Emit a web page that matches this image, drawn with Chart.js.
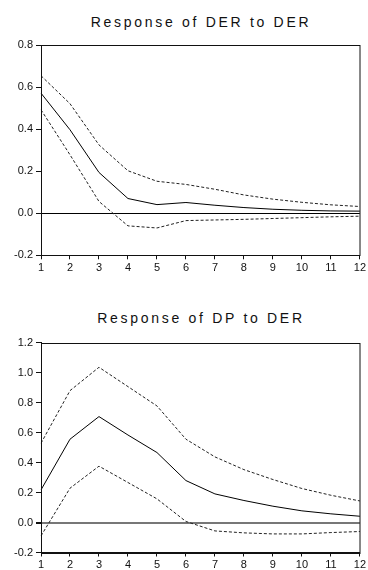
<!DOCTYPE html>
<html>
<head>
<meta charset="utf-8">
<script src="https://cdn.jsdelivr.net/npm/chart.js@4/dist/chart.umd.min.js"></script>
<style>
  html, body { margin: 0; padding: 0; background: #fff; }
  #wrap { position: relative; width: 368px; height: 570px; overflow: hidden; background: #fff; }
  canvas { position: absolute; left: 0; display: block; }
  .ttl { position: absolute; left: 0; width: 368px; text-align: center;
         font-family: "Liberation Sans", Arial, sans-serif; font-size: 14px; line-height: 14px;
         letter-spacing: 2.7px; color: #111; white-space: nowrap; }
</style>
</head>
<body>
<div id="wrap">
  <div class="ttl" id="t1" style="top:15px; padding-left:34px; box-sizing:border-box;">Response of DER to DER</div>
  <canvas id="c1" width="368" height="285" style="top:0px; width:368px; height:285px;"></canvas>
  <div class="ttl" id="t2" style="top:311px; padding-left:34px; box-sizing:border-box;">Response of DP to DER</div>
  <canvas id="c2" width="368" height="285" style="top:285px; width:368px; height:285px;"></canvas>
</div>
<script>
// ---- data ----
const periods = [1, 2, 3, 4, 5, 6, 7, 8, 9, 10, 11, 12];

// Response of DER to DER
const derResponse = [0.571, 0.397, 0.194, 0.070, 0.041, 0.051, 0.038, 0.027, 0.019, 0.014, 0.011, 0.010];
const derUpper    = [0.654, 0.521, 0.325, 0.202, 0.152, 0.137, 0.114, 0.087, 0.067, 0.052, 0.040, 0.032];
const derLower    = [0.492, 0.278, 0.056, -0.060, -0.070, -0.035, -0.032, -0.029, -0.025, -0.021, -0.017, -0.014];
const derYTicks   = [-0.2, 0.0, 0.2, 0.4, 0.6, 0.8];

// Response of DP to DER
const dpResponse = [0.218, 0.556, 0.707, 0.584, 0.467, 0.280, 0.191, 0.147, 0.109, 0.078, 0.058, 0.042];
const dpUpper    = [0.529, 0.880, 1.036, 0.907, 0.778, 0.556, 0.438, 0.353, 0.287, 0.227, 0.182, 0.144];
const dpLower    = [-0.089, 0.229, 0.376, 0.267, 0.158, 0.007, -0.056, -0.069, -0.076, -0.076, -0.067, -0.060];
const dpYTicks   = [-0.2, 0.0, 0.2, 0.4, 0.6, 0.8, 1.0, 1.2];

const FONT = "'Liberation Sans', Arial, sans-serif";

const framePlugin = {
  id: 'frame',
  afterDatasetsDraw(chart) {
    const a = chart.chartArea, ctx = chart.ctx;
    ctx.save();
    ctx.strokeStyle = '#111';
    ctx.lineWidth = 1;
    ctx.strokeRect(Math.round(a.left) + 0.5, Math.round(a.top) + 0.5,
                   Math.round(a.right - a.left) - 0.5, Math.round(a.bottom - a.top));
    ctx.restore();
  }
};

function makeChart(id, resp, up, lo, yTicks, pad, zeroColor, zeroWidth) {
  const dashed = { borderColor: '#222', borderWidth: 1, borderDash: [3, 2], pointRadius: 0, tension: 0, fill: false };
  return new Chart(document.getElementById(id), {
    type: 'line',
    data: {
      labels: periods,
      datasets: [
        { data: up, ...dashed },
        { data: resp, borderColor: '#000', borderWidth: 1, pointRadius: 0, tension: 0, fill: false },
        { data: lo, ...dashed }
      ]
    },
    options: {
      responsive: false,
      devicePixelRatio: 1,
      animation: false,
      events: [],
      layout: { padding: pad },
      plugins: { legend: { display: false }, title: { display: false }, tooltip: { enabled: false } },
      scales: {
        x: {
          type: 'category',
          offset: false,
          grid: { display: true, drawOnChartArea: false, drawTicks: true, tickLength: 4, tickColor: '#111', color: '#111' },
          border: { display: true, color: '#111', width: 1 },
          ticks: { color: '#111', font: { family: FONT, size: 11 }, padding: 2, maxRotation: 0, autoSkip: false },
          afterFit(s) { s.height = 17; }
        },
        y: {
          min: yTicks[0],
          max: yTicks[yTicks.length - 1],
          afterBuildTicks(s) { s.ticks = yTicks.map(v => ({ value: v })); },
          grid: {
            display: true, drawOnChartArea: true, drawTicks: true, tickLength: 5, tickColor: '#111',
            color: c => (c.tick && Math.abs(c.tick.value) < 1e-9) ? zeroColor : 'rgba(0,0,0,0)',
            lineWidth: c => (c.tick && Math.abs(c.tick.value) < 1e-9) ? zeroWidth : 1
          },
          border: { display: true, color: '#111', width: 1 },
          ticks: { color: '#111', font: { family: FONT, size: 11 }, padding: 3,
                   callback: v => Number(v).toFixed(1) },
          afterFit(s) { s.width = 41; }
        }
      }
    },
    plugins: [framePlugin]
  });
}

makeChart('c1', derResponse, derUpper, derLower, derYTicks,
          { top: 45, right: 7, bottom: 12.7, left: 0 }, '#000', 1);
makeChart('c2', dpResponse, dpUpper, dpLower, dpYTicks,
          { top: 57.7, right: 7, bottom: 0.5, left: 0 }, '#777', 2);
</script>
</body>
</html>
